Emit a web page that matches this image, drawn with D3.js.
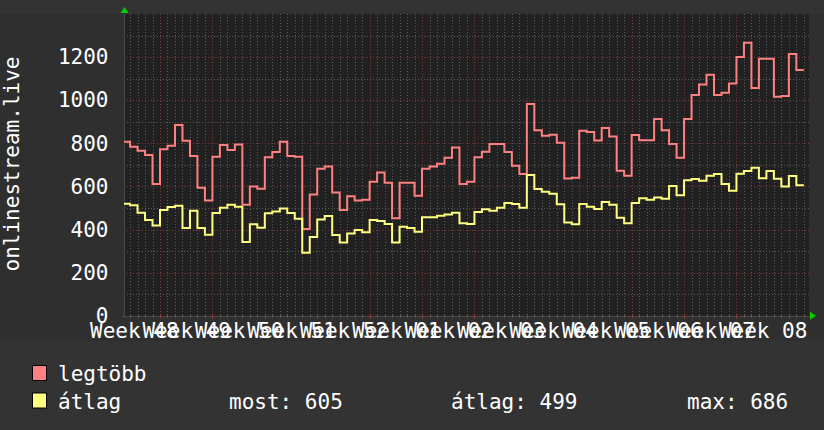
<!DOCTYPE html>
<html><head><meta charset="utf-8">
<script src="https://cdn.jsdelivr.net/npm/d3@7"></script>
<style>
html,body{margin:0;padding:0;background:#333333;}
svg{display:block;}
text{font-family:"DejaVu Sans Mono",monospace;fill:#ffffff;}
</style></head>
<body>
<svg id="chart" width="824" height="430"></svg>
<script>
// ---- data (one value per day) ----
const seriesNames = ["legtöbb", "átlag"];
const legtobb = [807,784,766,746,611,772,789,885,812,741,594,534,738,792,769,794,515,599,589,735,760,807,741,
  738,402,562,682,692,572,490,554,534,538,622,664,617,452,617,617,557,682,692,705,733,780,611,
  622,735,761,797,797,760,696,658,982,860,835,840,803,637,640,858,853,813,871,831,673,650,839,
  814,814,913,860,797,733,913,1024,1073,1118,1024,1035,1077,1201,1267,1057,1192,1192,1016,1020,1214,1140];
const atlag = [520,512,478,444,418,490,504,510,407,487,407,376,477,501,515,506,342,424,408,475,483,497,477,
  450,292,365,446,463,374,340,382,398,387,444,439,425,340,413,407,390,457,457,464,470,478,429,
  425,481,494,487,501,523,518,501,653,588,575,566,517,433,424,518,506,495,528,515,455,429,523,
  545,538,549,543,602,559,628,634,626,650,658,611,580,659,671,686,638,671,636,599,648,605];
const weekLabels = ["Week 48","Week 49","Week 50","Week 51","Week 52","Week 01","Week 02","Week 03",
  "Week 04","Week 05","Week 06","Week 07","Week 08"];
const yTicks = [0,200,400,600,800,1000,1200];
const yTitle = "onlinestream.live";
const legendStats = ["most: 605", "átlag: 499", "max: 686"];

// ---- layout ----
const svg = d3.select("#chart");
const L = 124, R = 809, T = 14, B = 315.7;
const x = d3.scaleLinear().domain([-4.81, 86.69]).range([L, R]);
const y = d3.scaleLinear().domain([0, 1400]).range([B, T]);

svg.append("rect").attr("x",0).attr("y",0).attr("width",824).attr("height",430).attr("fill","#333333");
svg.append("rect").attr("x",0).attr("y",T).attr("width",824).attr("height",341-T).attr("fill","#2f2f2f");
svg.append("rect").attr("x",L).attr("y",T).attr("width",R-L).attr("height",B-T).attr("fill","#212121");

// grid
const g = svg.append("g");
const majorX = d3.range(0, 85, 7);
const minorX = d3.range(-4, 87).filter(t => t % 7 !== 0);
g.selectAll(".vmin").data(minorX).enter().append("line")
  .attr("x1", d => Math.round(x(d)) + 0.5).attr("x2", d => Math.round(x(d)) + 0.5)
  .attr("y1", T).attr("y2", B).attr("stroke","#5a5a5a").attr("stroke-dasharray","1,2");
g.selectAll(".hmin").data(d3.range(100, 1400, 200)).enter().append("line")
  .attr("x1", L).attr("x2", R).attr("y1", d => Math.round(y(d)) + 0.5).attr("y2", d => Math.round(y(d)) + 0.5)
  .attr("stroke","#5a5a5a").attr("stroke-dasharray","1,2");
g.selectAll(".vmaj").data(majorX).enter().append("line")
  .attr("x1", d => Math.round(x(d)) + 0.5).attr("x2", d => Math.round(x(d)) + 0.5)
  .attr("y1", T).attr("y2", B).attr("stroke","#7a3a3a").attr("stroke-dasharray","1,2");
g.selectAll(".hmaj").data(yTicks.filter(v => v > 0)).enter().append("line")
  .attr("x1", L).attr("x2", R).attr("y1", d => Math.round(y(d)) + 0.5).attr("y2", d => Math.round(y(d)) + 0.5)
  .attr("stroke","#7a3a3a").attr("stroke-dasharray","1,2");

// axes lines and ticks
svg.append("line").attr("x1",L+0.5).attr("x2",L+0.5).attr("y1",T).attr("y2",B+2).attr("stroke","#4a4a4a");
svg.append("line").attr("x1",L-2).attr("x2",R+2).attr("y1",Math.round(B)+0.5).attr("y2",Math.round(B)+0.5).attr("stroke","#4a4a4a");
svg.selectAll(".tmin").data(minorX).enter().append("line")
  .attr("x1", d => Math.round(x(d)) + 0.5).attr("x2", d => Math.round(x(d)) + 0.5)
  .attr("y1", B - 1).attr("y2", B + 2).attr("stroke","#5a5a5a");
svg.selectAll(".tmaj").data(majorX).enter().append("line")
  .attr("x1", d => Math.round(x(d)) + 0.5).attr("x2", d => Math.round(x(d)) + 0.5)
  .attr("y1", B - 2).attr("y2", B + 3).attr("stroke","#8a3a3a");

// arrows
svg.append("path").attr("d", `M${L-3.5},${T-1} L${L+4.5},${T-1} L${L+0.5},${T-7} Z`).attr("fill","#00d000");
svg.append("path").attr("d", `M${R+1},${B-4} L${R+1},${B+4} L${R+7},${B} Z`).attr("fill","#00d000");

// data lines
function pts(vals){
  const p = vals.map((v,d) => [Math.max(d - 5, x.domain()[0]), v]);
  p.push([vals.length - 5, vals[vals.length - 1]]);
  return p;
}
const line = d3.line().x(d => x(d[0])).y(d => y(d[1])).curve(d3.curveStepAfter);
svg.append("path").attr("d", line(pts(legtobb))).attr("fill","none").attr("stroke","#ff8080").attr("stroke-width",2);
svg.append("path").attr("d", line(pts(atlag))).attr("fill","none").attr("stroke","#ffff80").attr("stroke-width",2);

// y axis labels
const yAxis = d3.axisLeft(y).tickValues(yTicks).tickSize(0).tickPadding(15.5).tickFormat(d3.format("d"));
const ya = svg.append("g").attr("transform", `translate(${L},0)`).call(yAxis);
ya.select(".domain").remove();
ya.selectAll("text").attr("font-size", 21).attr("font-family","DejaVu Sans Mono").attr("fill","#fff");

// x axis labels
const labelPos = weekLabels.map((_, i) => 7 * i - 3.5);
const xAxis = d3.axisBottom(x).tickValues(labelPos).tickSize(0).tickPadding(7.4).tickFormat((d, i) => weekLabels[i]);
const xa = svg.append("g").attr("transform", `translate(0,${B})`).call(xAxis);
xa.select(".domain").remove();
xa.selectAll("text").attr("font-size", 21).attr("font-family","DejaVu Sans Mono").attr("fill","#fff");

// y title
svg.append("text").attr("transform", "translate(19,164) rotate(-90)").attr("text-anchor","middle")
  .attr("font-size", 21).text(yTitle);

// legend
const legColors = ["#ff8080", "#ffff80"];
const legY = [381, 408.5];
seriesNames.forEach((n, i) => {
  svg.append("rect").attr("x", 32.5).attr("y", legY[i] - 15.5).attr("width", 14).attr("height", 15)
    .attr("fill", legColors[i]).attr("stroke", "#000").attr("stroke-width", 1);
  svg.append("text").attr("x", 58).attr("y", legY[i]).attr("font-size", 21).text(n);
});
const statX = [229, 451, 687];
legendStats.forEach((s, i) => {
  svg.append("text").attr("x", statX[i]).attr("y", legY[1]).attr("font-size", 21).text(s);
});
</script>
</body></html>
